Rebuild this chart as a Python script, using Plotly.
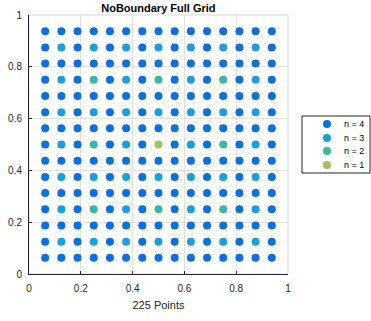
import plotly.graph_objects as go

# Grid node coordinates along each axis
coords = [0.0625, 0.125, 0.1875, 0.25, 0.3125, 0.375, 0.4375, 0.5,
          0.5625, 0.625, 0.6875, 0.75, 0.8125, 0.875, 0.9375]

# Level n of every node: rows follow y (bottom to top), columns follow x
levels = [
    [4, 4, 4, 4, 4, 4, 4, 4, 4, 4, 4, 4, 4, 4, 4],
    [4, 3, 4, 3, 4, 3, 4, 3, 4, 3, 4, 3, 4, 3, 4],
    [4, 4, 4, 4, 4, 4, 4, 4, 4, 4, 4, 4, 4, 4, 4],
    [4, 3, 4, 2, 4, 3, 4, 2, 4, 3, 4, 2, 4, 3, 4],
    [4, 4, 4, 4, 4, 4, 4, 4, 4, 4, 4, 4, 4, 4, 4],
    [4, 3, 4, 3, 4, 3, 4, 3, 4, 3, 4, 3, 4, 3, 4],
    [4, 4, 4, 4, 4, 4, 4, 4, 4, 4, 4, 4, 4, 4, 4],
    [4, 3, 4, 2, 4, 3, 4, 1, 4, 3, 4, 2, 4, 3, 4],
    [4, 4, 4, 4, 4, 4, 4, 4, 4, 4, 4, 4, 4, 4, 4],
    [4, 3, 4, 3, 4, 3, 4, 3, 4, 3, 4, 3, 4, 3, 4],
    [4, 4, 4, 4, 4, 4, 4, 4, 4, 4, 4, 4, 4, 4, 4],
    [4, 3, 4, 2, 4, 3, 4, 2, 4, 3, 4, 2, 4, 3, 4],
    [4, 4, 4, 4, 4, 4, 4, 4, 4, 4, 4, 4, 4, 4, 4],
    [4, 3, 4, 3, 4, 3, 4, 3, 4, 3, 4, 3, 4, 3, 4],
    [4, 4, 4, 4, 4, 4, 4, 4, 4, 4, 4, 4, 4, 4, 4],
]

level_order = [4, 3, 2, 1]
level_colors = {4: "#0b6fe0", 3: "#1aa0d8", 2: "#38b8a2", 1: "#a4bf63"}

tick_vals = [0, 0.2, 0.4, 0.6, 0.8, 1]
tick_text = ["0", "0.2", "0.4", "0.6", "0.8", "1"]

font_family = "Liberation Sans, Arial, Helvetica, sans-serif"
text_color = "#262626"

# Figure geometry (pixels)
W, H = 371, 321
ML, MR, MT, MB = 29, 83, 15, 47
PW, PH = W - ML - MR, H - MT - MB


def px_to_paper_x(px):
    return (px - ML) / PW


def px_to_paper_y(py):
    return (H - MB - py) / PH


fig = go.Figure()
for n in level_order:
    xs, ys = [], []
    for r, yv in enumerate(coords):
        for c, xv in enumerate(coords):
            if levels[r][c] == n:
                xs.append(xv)
                ys.append(yv)
    fig.add_trace(go.Scatter(
        x=xs, y=ys, mode="markers", name=f"n = {n}", showlegend=False,
        marker=dict(size=8, color=level_colors[n], line=dict(width=0)),
    ))

# Compact legend box drawn in paper coordinates
shapes = [
    dict(type="rect", xref="paper", yref="paper", x0=0, y0=0, x1=1, y1=1,
         line=dict(color="#d8d8d8", width=1), layer="below"),
    dict(type="rect", xref="paper", yref="paper",
         x0=px_to_paper_x(302), x1=px_to_paper_x(370),
         y0=px_to_paper_y(173), y1=px_to_paper_y(116),
         line=dict(color=text_color, width=1), fillcolor="white", layer="above"),
]
annotations = []
legend_rows = [124, 138, 151, 165]
r_x, r_y = 4 / PW, 4 / PH
for n, row in zip(level_order, legend_rows):
    cx, cy = px_to_paper_x(327), px_to_paper_y(row)
    shapes.append(dict(type="circle", xref="paper", yref="paper",
                       x0=cx - r_x, x1=cx + r_x, y0=cy - r_y, y1=cy + r_y,
                       line=dict(width=0), fillcolor=level_colors[n], layer="above"))
    annotations.append(dict(xref="paper", yref="paper", x=px_to_paper_x(342), y=cy,
                            xanchor="left", yanchor="middle", showarrow=False,
                            text=f"n = {n}",
                            font=dict(size=9, color="black", family=font_family)))

axis_common = dict(
    range=[0, 1], tickvals=tick_vals, ticktext=tick_text,
    showgrid=True, gridcolor="#e0e0e0", gridwidth=1,
    zeroline=False, showline=True, linecolor=text_color, linewidth=1,
    ticks="inside", ticklen=3, tickcolor=text_color,
    tickfont=dict(size=10, color=text_color, family=font_family),
)

fig.update_layout(
    width=W, height=H,
    margin=dict(l=ML, r=MR, t=MT, b=MB, autoexpand=False),
    paper_bgcolor="white", plot_bgcolor="white",
    font=dict(family=font_family, color=text_color),
    title=dict(
        text="<b>NoBoundary Full Grid</b>",
        font=dict(size=11, color="black", family=font_family),
        x=0.427, xanchor="center", y=0.975, yanchor="middle",
        xref="container", yref="container",
    ),
    xaxis=dict(**axis_common, ticklabelstandoff=5,
               title=dict(text="225 Points", standoff=8,
                          font=dict(size=11, color=text_color, family=font_family))),
    yaxis=dict(**axis_common, ticklabelstandoff=4),
    showlegend=False,
    shapes=shapes,
    annotations=annotations,
)

fig.write_html("out.html")
